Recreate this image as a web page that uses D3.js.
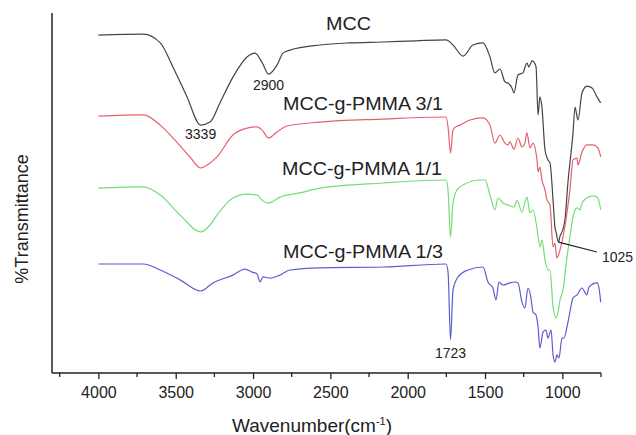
<!DOCTYPE html>
<html>
<head>
<meta charset="utf-8">
<script src="https://cdn.jsdelivr.net/npm/d3@7"></script>
<style>
  body { margin: 0; background: #fff; }
  text { font-family: "Liberation Sans", Arial, sans-serif; fill: #222; }
</style>
</head>
<body>
<svg id="chart" width="636" height="435"></svg>
<script>
// FTIR spectra, [wavenumber, transmittance (offset, arbitrary units)]
var mcc = [
  [4000,112.3],[3710,112.6],[3600,109.7],[3518,101.7],[3427,91.7],[3339,82.3],[3278,83.3],
  [3214,89.7],[3130,98.3],[3039,105],[2987,106.3],[2940,103],[2900,99.3],[2845,102.3],
  [2806,106.3],[2761,107.3],[2567,109],[2380,109.7],[2160,110],[1946,110.4],[1752,110.7],
  [1707,109],[1642,105.3],[1578,109],[1513,109.7],[1468,105],[1436,99.7],[1403,101],
  [1371,96.7],[1352,96.3],[1326,94.7],[1313,93],[1287,99],[1255,99.7],[1229,103],
  [1216,101.7],[1196,103.7],[1183,103.3],[1170,101.7],[1157,85.7],[1145,91.7],[1132,88.3],
  [1112,74],[1093,70.7],[1080,69.7],[1060,57.3],[1048,48.3],[1041,46.7],[1025,43.3],
  [1015,45.3],[1002,46.7],[983,50.7],[964,63],[931,79.7],[918,88.3],[899,84],[873,93],
  [841,95.3],[808,94.7],[776,91.7],[752,89.7]
];
var pmma31 = [
  [4000,85.3],[3710,85.7],[3600,82.3],[3505,77.3],[3408,71.7],[3339,68],[3278,69.7],
  [3233,71.7],[3130,79],[3039,81.3],[2974,81.7],[2942,80.7],[2900,78],[2845,80],[2780,82],
  [2567,83.3],[2160,84.3],[1752,85],[1739,81.7],[1723,73],[1707,80.7],[1688,81.7],
  [1662,82.3],[1597,84],[1513,84.7],[1468,82.3],[1436,76.3],[1403,79],[1371,76.3],
  [1352,75.7],[1339,76.7],[1313,74.3],[1287,78],[1261,75],[1242,76.3],[1229,79.7],
  [1209,74.7],[1190,76.3],[1164,70.7],[1157,66.7],[1145,68.3],[1132,64],[1112,60.7],
  [1099,57.3],[1080,55.7],[1060,41.7],[1048,43],[1035,38],[1015,40.7],[996,45],[970,53],
  [951,60.7],[931,70.7],[905,71.3],[899,69],[873,73.3],[841,75.7],[802,75.7],[770,74.7],
  [752,71.7]
];
var pmma11 = [
  [4000,61.3],[3710,61.7],[3600,59],[3472,52.3],[3339,46.7],[3278,49],[3233,52.3],
  [3130,58],[3039,59.3],[2974,59],[2942,57.3],[2900,56.3],[2826,58.3],[2696,59.7],
  [2567,61.3],[2160,63],[1752,64],[1739,60.7],[1723,45],[1707,56.3],[1681,60.7],
  [1642,62.3],[1532,64],[1500,64],[1468,59],[1436,54],[1416,58],[1384,56.3],[1352,55.7],
  [1313,55],[1293,57.3],[1261,53.3],[1229,58.3],[1209,53],[1190,54],[1164,48],[1145,41.7],
  [1132,44],[1112,37.3],[1093,34],[1080,34],[1060,21.7],[1041,18],[1028,20],[1015,24],
  [996,27.3],[970,38.3],[951,45],[931,51.7],[905,54.7],[886,54],[873,56.3],[841,58],
  [802,58.7],[770,58],[752,54]
];
var pmma13 = [
  [4000,36],[3710,36],[3600,34],[3472,30.7],[3339,27],[3259,29.7],[3130,32.3],[3052,34.3],
  [3007,33.3],[2974,32.7],[2955,30],[2936,31.7],[2890,31.3],[2826,32.3],[2761,34],
  [2567,34.7],[2160,35],[1752,36],[1739,33.3],[1723,10.7],[1707,27.3],[1675,31.7],
  [1610,34],[1513,35],[1481,30],[1449,28],[1429,24],[1410,30],[1384,29],[1339,29.7],
  [1306,30],[1287,29.7],[1261,23.3],[1242,21.3],[1222,28],[1203,24.7],[1190,20],[1170,19],
  [1157,15],[1145,8],[1125,13.3],[1106,14],[1093,11.3],[1073,14],[1060,5.7],[1048,3.3],
  [1035,5.7],[1022,4.7],[1002,11.3],[989,11.3],[970,15],[951,20],[931,24.7],[905,25.7],
  [873,28],[841,25.7],[828,28.3],[776,29.7],[763,28],[752,23.3]
];
var seriesNames = ["MCC", "MCC-g-PMMA 3/1", "MCC-g-PMMA 1/1", "MCC-g-PMMA 1/3"];
var seriesColors = ["#444444", "#e5606e", "#74de74", "#5c5cd2"];
var majorTicks = [4000, 3500, 3000, 2500, 2000, 1500, 1000];
var minorTicks = [4250, 3750, 3250, 2750, 2250, 1750, 1250, 750];
// peak labels: [text, wavenumber, transmittance]
var peakLabels = [["3339", 3339, 77.8], ["2900", 2900, 94], ["1723", 1723, 4.7]];

var svg = d3.select("#chart");
var x = d3.scaleLinear().domain([4300, 750]).range([52, 601]);
var y = d3.scaleLinear().domain([0, 120]).range([372, 12]);

// axes
svg.append("line").attr("x1", 52).attr("x2", 52).attr("y1", 13).attr("y2", 373)
  .attr("stroke", "#222").attr("stroke-width", 1.5);

var xAxis = svg.append("g").attr("transform", "translate(0,373)")
  .call(d3.axisBottom(x).tickValues(majorTicks).tickSize(6).tickPadding(8).tickFormat(d3.format("d")));
xAxis.select(".domain").attr("stroke", "#222").attr("stroke-width", 1.5)
  .attr("d", "M52,0H601");
xAxis.selectAll(".tick line").attr("stroke", "#222").attr("stroke-width", 1.3);
xAxis.selectAll(".tick text").attr("font-size", 16).attr("fill", "#222")
  .style("font-family", "Liberation Sans, Arial, sans-serif");

svg.append("g").attr("transform", "translate(0,373)")
  .selectAll("line").data(minorTicks).join("line")
  .attr("x1", d => x(d)).attr("x2", d => x(d)).attr("y1", 0).attr("y2", 4)
  .attr("stroke", "#222").attr("stroke-width", 1.3);

// titles
var xt = svg.append("text").attr("x", 232).attr("y", 432)
  .attr("font-size", 19).text("Wavenumber(cm");
xt.append("tspan").attr("dy", -7).attr("font-size", 11).text("-1");
xt.append("tspan").attr("dy", 7).text(")");

svg.append("text").attr("transform", "translate(28,219) rotate(-90)")
  .attr("text-anchor", "middle").attr("font-size", 18).text("%Transmittance");

// spectra
var line = d3.line().x(d => x(d[0])).y(d => y(d[1])).curve(d3.curveMonotoneX);
[mcc, pmma31, pmma11, pmma13].forEach(function (s, i) {
  svg.append("path").datum(s).attr("d", line)
    .attr("fill", "none").attr("stroke", seriesColors[i]).attr("stroke-width", 1.2);
});

// series names
var namePos = [[326, 30, 45], [283, 110, 160], [282, 175, 160], [283, 258, 160]];
seriesNames.forEach(function (n, i) {
  svg.append("text").attr("x", namePos[i][0]).attr("y", namePos[i][1])
    .attr("font-size", 18).attr("textLength", namePos[i][2])
    .attr("lengthAdjust", "spacingAndGlyphs").text(n);
});

// peak labels
peakLabels.forEach(function (p) {
  svg.append("text").attr("x", x(p[1])).attr("y", y(p[2]))
    .attr("text-anchor", "middle").attr("font-size", 14).text(p[0]);
});
svg.append("line").attr("x1", x(1025)).attr("y1", y(43.3))
  .attr("x2", 597).attr("y2", 252).attr("stroke", "#222").attr("stroke-width", 1.2);
svg.append("text").attr("x", 602).attr("y", 262).attr("font-size", 14).text("1025");
</script>
</body>
</html>
